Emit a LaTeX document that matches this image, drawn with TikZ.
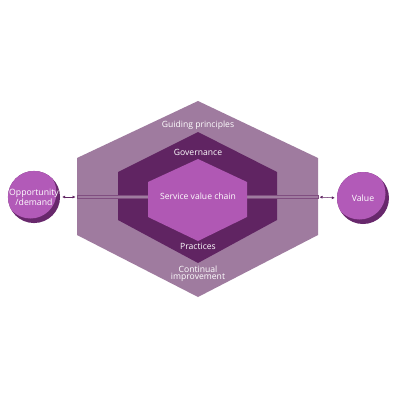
\documentclass[tikz,border=0pt]{standalone}
\usepackage{fontspec}
\setmainfont{Open Sans}
\usepackage{xcolor}
\usepackage{tikz}
\usetikzlibrary{arrows.meta,positioning,calc}
\definecolor{hexouter}{RGB}{159,123,159}
\definecolor{hexdark}{RGB}{96,36,98}
\definecolor{hexlight}{RGB}{176,88,180}
\definecolor{orblight}{RGB}{178,90,184}
\definecolor{orbdark}{RGB}{104,40,108}
\definecolor{barline}{RGB}{128,78,128}

\begin{document}
\begin{tikzpicture}[
  x=1pt, y=-1pt,
  lbl/.style={text=white, font=\fontsize{8.6}{8}\selectfont, align=center, inner sep=0pt},
  orb/.style={circle, minimum size=52pt, inner sep=0pt, fill=orbdark, lbl,
              font=\fontsize{8.7}{8.4}\selectfont,
              path picture={\fill[orblight] ($(path picture bounding box.center)+(-3.5pt,4.5pt)$)
                            circle[radius=26pt];}},
  arr/.style={{Latex[length=3pt,width=3pt]}-{Latex[length=3pt,width=3pt]}, draw=hexouter,
              line width=0.5pt, color=hexdark},
]
  \useasboundingbox[fill=white] (0,0) rectangle (400,400);

  % Hexagons
  \fill[hexouter] (198,101) -- (318,158) -- (318,235) -- (198,297)
                  -- (77,235) -- (77,158) -- cycle;
  \fill[hexdark]  (198,132) -- (277,172) -- (277,220) -- (198,263)
                  -- (118,220) -- (118,172) -- cycle;
  \filldraw[fill=hexouter, draw=barline, line width=0.3pt] (77,195.5) rectangle (318,198);
  \fill[hexlight] (198,159) -- (247,182) -- (247,217) -- (198,241)
                  -- (148,217) -- (148,182) -- cycle;
  \coordinate (hexw) at (77,197);
  \coordinate (hexe) at (318,197);

  % Nodes
  \node[lbl] (guide)   at (198,125) {Guiding principles};
  \node[lbl] (gov)     at (198,152) {Governance};
  \node[lbl] (svc)     at (198,196) {Service value chain};
  \node[lbl] (prac)    at (198,246) {Practices};
  \node[lbl, font=\fontsize{8.6}{7.5}\selectfont] (improve) at (198,274) {Continual\\improvement};
  \node[orb] (opp) at (34,197) {Opportunity\\/demand};
  \node[orb] (val) at (363,198) {Value};

  % Arrows
  \draw[arr, shorten <=2pt, shorten >=1.5pt] (opp.east) -- (hexw);
  \draw[arr, shorten <=1.5pt, shorten >=2pt] (hexe) -- (val.west);
\end{tikzpicture}
\end{document}
